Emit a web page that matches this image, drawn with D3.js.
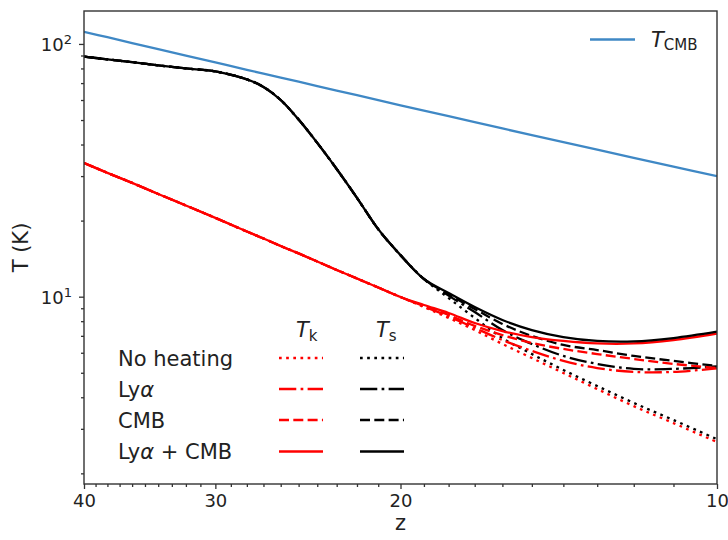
<!DOCTYPE html>
<html>
<head>
<meta charset="utf-8">
<script src="https://cdn.jsdelivr.net/npm/d3@7"></script>
<style>
body { margin: 0; background: #fff; }
text { font-family: "DejaVu Sans", sans-serif; fill: #222; }
</style>
</head>
<body>
<div id="chart"></div>
<script>
const width = 728
const height = 540
const margin = {top: 11, right: 11, bottom: 56, left: 84}

// redshift grid and temperatures (K)
const zGrid = [40, 38, 36, 34, 32, 30, 28, 27, 26, 25, 24, 23, 22, 21, 20, 19, 18, 17, 16, 15, 14, 13, 12, 11, 10]
const tCmb = [111.7, 106.3, 100.8, 95.4, 89.9, 84.5, 79.0, 76.3, 73.6, 70.9, 68.1, 65.4, 62.7, 60.0, 57.2, 54.5, 51.8, 49.1, 46.3, 43.6, 40.9, 38.2, 35.4, 32.7, 30.0]

const tkNoHeat = [33.8, 30.9, 28.2, 25.5, 22.95, 20.5, 18.1, 17.0, 15.87, 14.83, 13.78, 12.76, 11.8, 10.87, 9.97, 9.10, 8.24, 7.38, 6.50, 5.72, 4.99, 4.31, 3.69, 3.16, 2.66]
const tkLya = [33.8, 30.9, 28.2, 25.5, 22.95, 20.5, 18.1, 17.0, 15.87, 14.83, 13.78, 12.76, 11.8, 10.87, 9.97, 9.15, 8.36, 7.52, 6.74, 6.10, 5.57, 5.22, 5.04, 5.04, 5.20]
const tkCmb = [33.8, 30.9, 28.2, 25.5, 22.95, 20.5, 18.1, 17.0, 15.87, 14.83, 13.78, 12.76, 11.8, 10.87, 9.97, 9.19, 8.47, 7.66, 7.05, 6.56, 6.21, 5.93, 5.67, 5.42, 5.22]
const tkBoth = [33.8, 30.9, 28.2, 25.5, 22.95, 20.5, 18.1, 17.0, 15.87, 14.83, 13.78, 12.76, 11.8, 10.87, 9.97, 9.27, 8.62, 7.87, 7.31, 6.92, 6.68, 6.53, 6.53, 6.74, 7.15]

const tsNoHeat = [89.1, 86.9, 84.7, 82.3, 80.0, 77.9, 72.4, 67.6, 60.0, 50.2, 40.6, 32.0, 24.6, 18.5, 14.6, 11.75, 9.88, 8.24, 6.86, 5.93, 5.13, 4.43, 3.80, 3.25, 2.73]
const tsLya = [89.1, 86.9, 84.7, 82.3, 80.0, 77.9, 72.4, 67.6, 60.0, 50.2, 40.6, 32.0, 24.6, 18.5, 14.6, 11.75, 10.1, 8.70, 7.38, 6.50, 5.83, 5.42, 5.18, 5.18, 5.30]
const tsCmb = [89.1, 86.9, 84.7, 82.3, 80.0, 77.9, 72.4, 67.6, 60.0, 50.2, 40.6, 32.0, 24.6, 18.5, 14.6, 11.75, 10.2, 8.94, 7.80, 6.99, 6.44, 6.15, 5.83, 5.57, 5.32]
const tsBoth = [89.1, 86.9, 84.7, 82.3, 80.0, 77.9, 72.4, 67.6, 60.0, 50.2, 40.6, 32.0, 24.6, 18.5, 14.6, 11.75, 10.34, 9.10, 8.09, 7.38, 6.92, 6.68, 6.65, 6.86, 7.27]

const scenarios = ["No heating", "Lyα", "CMB", "Lyα + CMB"]
const xMajor = [40, 30, 20, 10]
const xMinor = d3.range(11, 40).filter(d => d % 10 != 0)
const yMajor = [10, 100]
const yMinor = [2, 3, 4, 5, 6, 7, 8, 9, 20, 30, 40, 50, 60, 70, 80, 90]

const lw = 2.3
const dashes = {
    "No heating": `${1 * 2.7},${1.65 * 2.7}`,
    "Lyα": `${6.4 * 2.7},${1.6 * 2.7},${1 * 2.7},${1.6 * 2.7}`,
    "CMB": `${3.7 * 2.7},${1.6 * 2.7}`,
    "Lyα + CMB": null
}
const tkSeries = [tkNoHeat, tkLya, tkCmb, tkBoth]
const tsSeries = [tsNoHeat, tsLya, tsCmb, tsBoth]

const svg = d3.select("div#chart").append("svg").attr("width", width).attr("height", height)
svg.append("rect").attr("width", width).attr("height", height).attr("fill", "#fff")

const x = d3.scaleLog().domain([40, 10]).range([margin.left, width - margin.right])
const y = d3.scaleLog().domain([1.815, 135]).range([height - margin.bottom, margin.top])

const plotGroup = svg.append("g").attr("id", "plotGroup")
svg.append("clipPath").attr("id", "clip").append("rect")
    .attr("x", margin.left).attr("y", margin.top)
    .attr("width", width - margin.left - margin.right).attr("height", height - margin.top - margin.bottom)
plotGroup.attr("clip-path", "url(#clip)")

const line = vals => d3.line()
    .x((d, i) => x(zGrid[i]))
    .y(d => y(d))
    .curve(d3.curveCatmullRom.alpha(0.5))(vals)

plotGroup.append("path").attr("d", line(tCmb))
    .attr("fill", "none").attr("stroke", "#3f88c5").attr("stroke-width", lw)

scenarios.forEach((s, i) => {
    plotGroup.append("path").attr("d", line(tkSeries[i]))
        .attr("fill", "none").attr("stroke", "#ff0000").attr("stroke-width", lw)
        .attr("stroke-dasharray", dashes[s])
    plotGroup.append("path").attr("d", line(tsSeries[i]))
        .attr("fill", "none").attr("stroke", "#000").attr("stroke-width", lw)
        .attr("stroke-dasharray", dashes[s])
})

// axes
const xAxisGroup = svg.append("g").attr("transform", `translate(0, ${height - margin.bottom})`)
xAxisGroup.call(d3.axisBottom(x).tickValues(xMajor).tickFormat(d3.format("d")).tickSize(5).tickPadding(5))
const xMinorGroup = svg.append("g").attr("transform", `translate(0, ${height - margin.bottom})`)
xMinorGroup.call(d3.axisBottom(x).tickValues(xMinor).tickFormat("").tickSize(3))

const yAxisGroup = svg.append("g").attr("transform", `translate(${margin.left}, 0)`)
yAxisGroup.call(d3.axisLeft(y).tickValues(yMajor).tickFormat(() => "").tickSize(5).tickPadding(7))
yAxisGroup.selectAll(".tick text").each(function(d) {
    const t = d3.select(this).attr("dy", "0.36em")
    t.append("tspan").text("10")
    t.append("tspan").attr("font-size", 13).attr("dy", "-0.55em").text(Math.round(Math.log10(d)))
})
const yMinorGroup = svg.append("g").attr("transform", `translate(${margin.left}, 0)`)
yMinorGroup.call(d3.axisLeft(y).tickValues(yMinor).tickFormat("").tickSize(3))

svg.selectAll(".domain").remove()
svg.selectAll(".tick line").attr("stroke", "#333").attr("stroke-width", 1.3)
svg.selectAll(".tick text").attr("font-size", 18).attr("font-family", "DejaVu Sans").attr("fill", "#222")

svg.append("rect")
    .attr("x", margin.left).attr("y", margin.top)
    .attr("width", width - margin.left - margin.right).attr("height", height - margin.top - margin.bottom)
    .attr("fill", "none").attr("stroke", "#333").attr("stroke-width", 1.4)

// axis labels
svg.append("text").text("z").attr("x", (margin.left + width - margin.right) / 2).attr("y", 530)
    .attr("text-anchor", "middle").attr("font-size", 21)
svg.append("text").text("T (K)")
    .attr("transform", `translate(28, ${(margin.top + height - margin.bottom) / 2}) rotate(-90)`)
    .attr("text-anchor", "middle").attr("font-size", 21)

// T_CMB legend
svg.append("line").attr("x1", 590).attr("x2", 635).attr("y1", 39.5).attr("y2", 39.5)
    .attr("stroke", "#3f88c5").attr("stroke-width", lw)
const cmbLabel = svg.append("text").attr("x", 651).attr("y", 46.5).attr("font-size", 21)
cmbLabel.append("tspan").attr("font-style", "italic").text("T")
cmbLabel.append("tspan").attr("font-size", 15).attr("dy", 3.5).text("CMB")

// scenario legend
const legend = svg.append("g").attr("id", "legend")
const headers = [{t: "k", x: 296}, {t: "s", x: 376}]
headers.forEach(h => {
    const txt = legend.append("text").attr("x", h.x).attr("y", 337).attr("font-size", 21)
    txt.append("tspan").attr("font-style", "italic").text("T")
    txt.append("tspan").attr("font-size", 15).attr("dy", 3.5).text(h.t)
})
const rowY = [358, 389, 420, 451.5]
scenarios.forEach((s, i) => {
    const txt = legend.append("text").attr("x", 118).attr("y", rowY[i] + 7.5).attr("font-size", 21)
    if (s.includes("α")) {
        txt.append("tspan").text("Ly")
        txt.append("tspan").attr("font-style", "italic").text("α")
        txt.append("tspan").text(s.replace("Lyα", ""))
    } else {
        txt.text(s)
    }
    legend.append("line").attr("x1", 279).attr("x2", 323).attr("y1", rowY[i]).attr("y2", rowY[i])
        .attr("stroke", "#ff0000").attr("stroke-width", lw).attr("stroke-dasharray", dashes[s])
    legend.append("line").attr("x1", 360).attr("x2", 404).attr("y1", rowY[i]).attr("y2", rowY[i])
        .attr("stroke", "#000").attr("stroke-width", lw).attr("stroke-dasharray", dashes[s])
})
</script>
</body>
</html>
